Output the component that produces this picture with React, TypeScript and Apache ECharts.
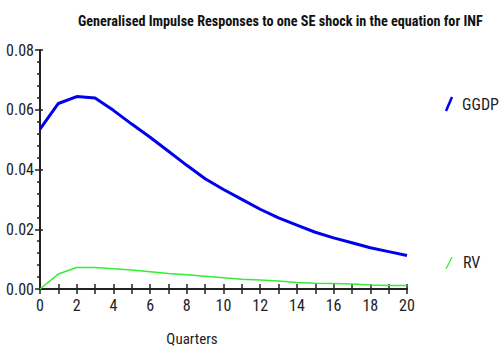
import React, { useEffect, useRef } from "react";
import * as echarts from "echarts";

const quarters = [0, 1, 2, 3, 4, 5, 6, 7, 8, 9, 10, 11, 12, 13, 14, 15, 16, 17, 18, 19, 20];
const ggdp = [0.0535, 0.0621, 0.0644, 0.0639, 0.0598, 0.0552, 0.0508, 0.0461, 0.0414, 0.0369, 0.0333, 0.03, 0.0267, 0.0238, 0.0214, 0.019, 0.0171, 0.0155, 0.0138, 0.0125, 0.0112];
const rv = [0.0, 0.005, 0.0072, 0.0072, 0.0068, 0.0064, 0.0058, 0.0052, 0.0048, 0.0043, 0.0038, 0.0033, 0.003, 0.0027, 0.0022, 0.0019, 0.0018, 0.0017, 0.0013, 0.0012, 0.0012];
const seriesNames = ["GGDP", "RV"];
const seriesColors = ["#0000ee", "#33ee33"];
const titleText = "Generalised Impulse Responses to one SE shock in the equation for INF";
const xAxisName = "Quarters";

const FONT = "'Roboto Condensed', 'DejaVu Sans Condensed', sans-serif";

export default function App() {
  const ref = useRef<HTMLDivElement>(null);
  useEffect(() => {
    if (!ref.current) return;
    const chart = echarts.init(ref.current, null, { renderer: "svg" });
    const axisColor = "#222";
    const yBase = {
      type: "value",
      min: 0,
      max: 0.08,
      interval: 0.02,
      position: "left",
      splitLine: { show: false },
    };
    const xBase = {
      type: "value",
      min: 0,
      max: 20,
      interval: 1,
      position: "bottom",
      splitLine: { show: false },
    };
    chart.setOption({
      animation: false,
      backgroundColor: "#ffffff",
      title: {
        text: titleText,
        left: 73,
        top: 9,
        textStyle: { fontFamily: FONT, fontSize: 14.2, fontWeight: "bold", color: "#111" },
      },
      grid: { left: 40, right: 93, top: 50, bottom: 60, containLabel: false },
      xAxis: [
        {
          ...xBase,
          axisLine: { show: true, onZero: false, lineStyle: { color: axisColor, width: 2 } },
          axisTick: { show: true, length: 5, lineStyle: { color: axisColor, width: 1.5 } },
          axisLabel: {
            margin: 8,
            fontFamily: FONT,
            fontSize: 16,
            color: "#222",
            formatter: (v: number) => (v % 2 === 0 ? String(v) : ""),
          },
        },
        {
          ...xBase,
          axisLine: { show: false, onZero: false },
          axisTick: { show: true, inside: true, length: 5, lineStyle: { color: axisColor, width: 1.5 } },
          axisLabel: { show: false },
        },
      ],
      yAxis: [
        {
          ...yBase,
          axisLine: { show: true, onZero: false, lineStyle: { color: axisColor, width: 2 } },
          axisTick: { show: true, length: 5, lineStyle: { color: axisColor, width: 1.5 } },
          minorTick: { show: true, splitNumber: 5, length: 3, lineStyle: { color: axisColor, width: 1.5 } },
          axisLabel: {
            margin: 6,
            fontFamily: FONT,
            fontSize: 16,
            color: "#222",
            formatter: (v: number) => v.toFixed(2),
          },
        },
        {
          ...yBase,
          axisLine: { show: false, onZero: false },
          axisTick: { show: true, inside: true, length: 3, lineStyle: { color: axisColor, width: 1.5 } },
          minorTick: { show: false },
          axisLabel: { show: false },
        },
      ],
      series: [
        {
          name: seriesNames[0],
          type: "line",
          data: quarters.map((q, i) => [q, ggdp[i]]),
          showSymbol: false,
          lineStyle: { color: seriesColors[0], width: 3 },
          itemStyle: { color: seriesColors[0] },
        },
        {
          name: seriesNames[1],
          type: "line",
          data: quarters.map((q, i) => [q, rv[i]]),
          showSymbol: false,
          lineStyle: { color: seriesColors[1], width: 1.5 },
          itemStyle: { color: seriesColors[1] },
        },
      ],
      graphic: [
        {
          type: "line",
          shape: { x1: 446, y1: 111, x2: 452, y2: 97 },
          style: { stroke: seriesColors[0], lineWidth: 2.5 },
        },
        {
          type: "text",
          x: 462,
          y: 104,
          style: { text: seriesNames[0], font: `16px ${FONT}`, fill: "#222", textVerticalAlign: "middle" },
        },
        {
          type: "line",
          shape: { x1: 446, y1: 269, x2: 452, y2: 257 },
          style: { stroke: seriesColors[1], lineWidth: 1.2 },
        },
        {
          type: "text",
          x: 463,
          y: 262,
          style: { text: seriesNames[1], font: `16px ${FONT}`, fill: "#222", textVerticalAlign: "middle" },
        },
        {
          type: "text",
          x: 192,
          y: 339,
          style: { text: xAxisName, font: `15px ${FONT}`, fill: "#222", textAlign: "center", textVerticalAlign: "middle" },
        },
      ],
    });
    return () => chart.dispose();
  }, []);
  return <div ref={ref} style={{ position: "fixed", left: 0, top: 0, width: 500, height: 349 }} />;
}
